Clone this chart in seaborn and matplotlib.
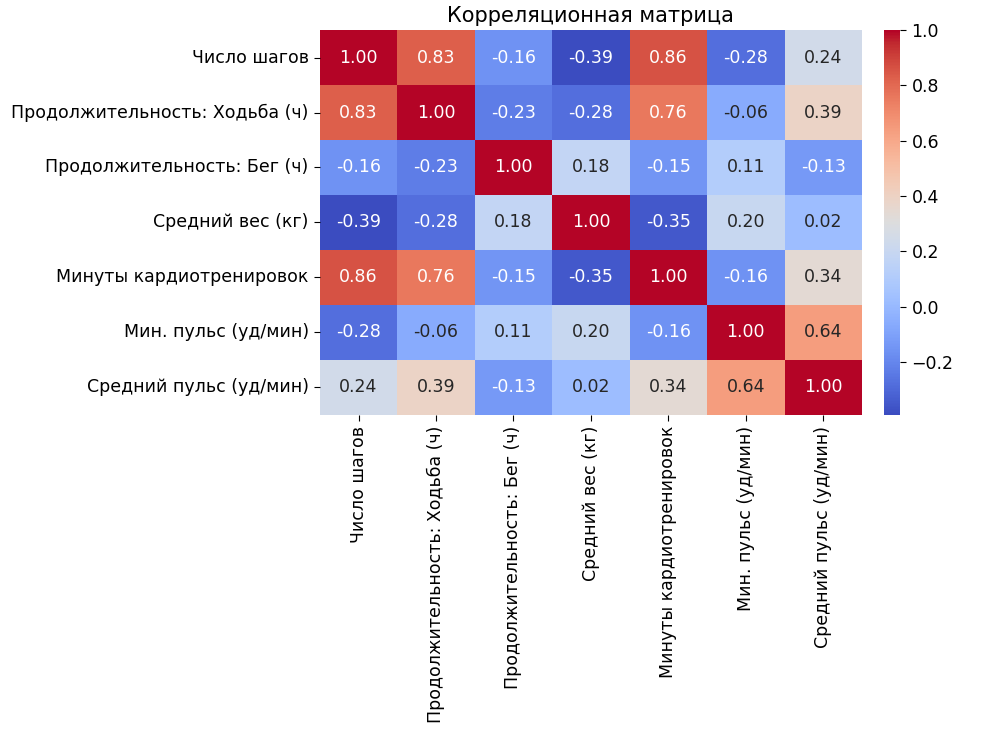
import numpy as np
import pandas as pd
import matplotlib
matplotlib.use("Agg")
import matplotlib.pyplot as plt
import seaborn as sns

labels = [
    "Число шагов",
    "Продолжительность: Ходьба (ч)",
    "Продолжительность: Бег (ч)",
    "Средний вес (кг)",
    "Минуты кардиотренировок",
    "Мин. пульс (уд/мин)",
    "Средний пульс (уд/мин)",
]

corr_values = [
    [1.00, 0.83, -0.16, -0.39, 0.86, -0.28, 0.24],
    [0.83, 1.00, -0.23, -0.28, 0.76, -0.06, 0.39],
    [-0.16, -0.23, 1.00, 0.18, -0.15, 0.11, -0.13],
    [-0.39, -0.28, 0.18, 1.00, -0.35, 0.20, 0.02],
    [0.86, 0.76, -0.15, -0.35, 1.00, -0.16, 0.34],
    [-0.28, -0.06, 0.11, 0.20, -0.16, 1.00, 0.64],
    [0.24, 0.39, -0.13, 0.02, 0.34, 0.64, 1.00],
]

corr = pd.DataFrame(corr_values, index=labels, columns=labels)

plt.rcParams["font.family"] = ["DejaVu Sans"]

fig = plt.figure(figsize=(9.84, 7.34), dpi=100)
ax = fig.add_axes([0.325, 0.435, 0.551, 0.524])
cax = fig.add_axes([0.898, 0.435, 0.017, 0.524])

sns.heatmap(corr, annot=True, fmt=".2f", cmap="coolwarm", ax=ax, cbar_ax=cax,
            annot_kws={"fontsize": 12.5})
ax.set_title("Корреляционная матрица", fontsize=15)
ax.tick_params(labelsize=12.5, length=4.5)
cax.tick_params(labelsize=12.5, length=4.5)
plt.setp(ax.get_xticklabels(), rotation=90)
plt.setp(ax.get_yticklabels(), rotation=0)

fig.savefig("out.png", dpi=100)
plt.close(fig)
